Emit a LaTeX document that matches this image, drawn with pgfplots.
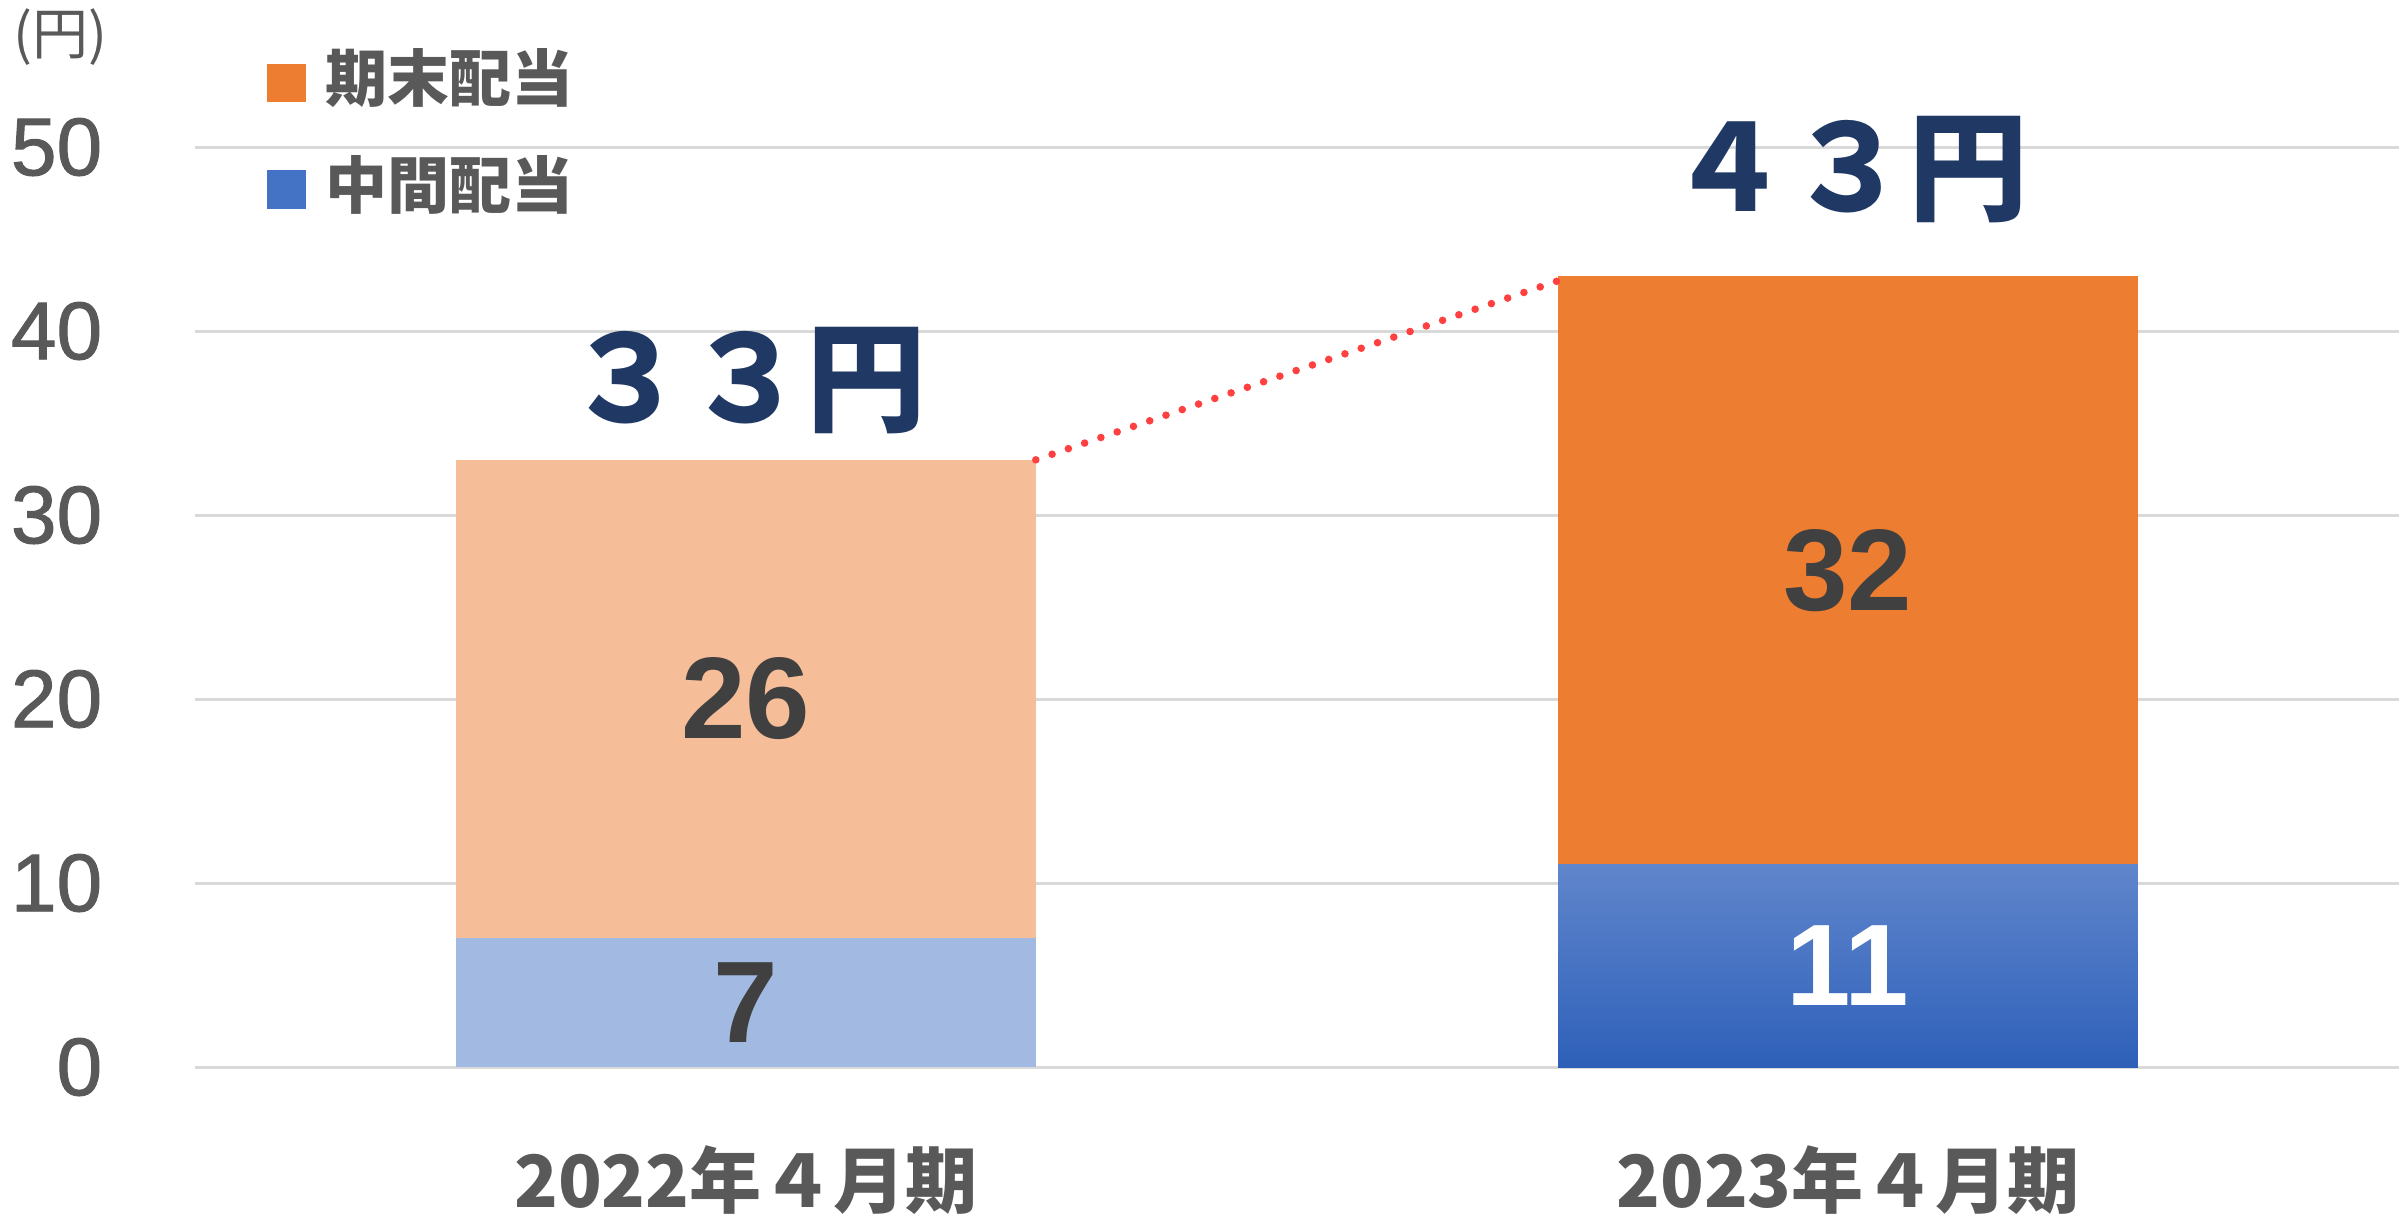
\documentclass[border=0pt]{standalone}
\usepackage{pgfplots}
\pgfplotsset{compat=1.18}
\usepackage{fontspec}
\setmainfont{Liberation Sans}
\newfontfamily\jp{Noto Sans CJK JP}
\newfontface\tickfont{Liberation Sans}[FakeBold=1.2]
\definecolor{orangeC}{HTML}{ED7D31}
\definecolor{blueC}{HTML}{4472C4}
\definecolor{orangeL}{HTML}{F5BE98}
\definecolor{blueL}{HTML}{A2B9E1}
\definecolor{blueTop}{HTML}{6086CC}
\definecolor{blueBot}{HTML}{2E60B9}
\definecolor{gridC}{HTML}{D9D9D9}
\definecolor{tickC}{HTML}{595959}
\definecolor{valC}{HTML}{404040}
\definecolor{navy}{HTML}{203864}
\definecolor{dotred}{HTML}{FF4040}
\begin{document}
\begin{tikzpicture}
\useasboundingbox (-48.75pt,-37pt) rectangle (553pt,266.75pt);
\begin{axis}[
  at={(0pt,0pt)}, anchor=south west,
  scale only axis, width=551pt, height=230pt,
  xmin=-0.5, xmax=1.5, ymin=0, ymax=50,
  enlargelimits=false, clip=false,
  axis line style={draw=none},
  major tick length=0pt,
  ytick={0,10,20,30,40,50},
  xtick={0,1},
  xticklabels={2022年４月期,2023年４月期},
  ymajorgrids,
  grid style={gridC, line width=0.75pt},
  /pgf/number format/assume math mode=true,
  yticklabel style={font=\tickfont\fontsize{20.5}{24}\selectfont, text=tickC, inner sep=0pt, anchor=east, xshift=-23pt},
  xticklabel style={font=\jp\bfseries\fontsize{18}{22}\selectfont, text=tickC, inner sep=0pt, anchor=north, yshift=-19.5pt},
  legend style={draw=none, fill=none, at={(0.0322,1.10)}, anchor=north west,
    font=\jp\bfseries\fontsize{15.5}{18}\selectfont, text=tickC,
    inner sep=0pt, row sep=13.2pt,
    nodes={inner sep=0pt, text height=11.5pt, text depth=2pt}},
  legend cell align=left,
]
\addplot[ybar, bar width=0.526, bar shift=0pt, fill=orangeL, draw=none, forget plot] coordinates {(0,33)};
\addplot[ybar, bar width=0.526, bar shift=0pt, fill=orangeC, draw=none, forget plot] coordinates {(1,43)};
\addplot[ybar, bar width=0.526, bar shift=0pt, fill=blueL, draw=none, forget plot] coordinates {(0,7)};
\addplot[ybar, bar width=0.526, bar shift=0pt, top color=blueTop, bottom color=blueBot, draw=none, forget plot] coordinates {(1,11)};
\addplot[dotred, line width=1.9pt, line cap=round, dash pattern=on 0pt off 4.3pt, forget plot] coordinates {(0.263,33) (0.75,43)};
\addlegendimage{legend image code/.code={\fill[orangeC] (0pt,-4.6pt) rectangle (9.4pt,4.6pt);}}
\addlegendentry{\hspace{5pt}期末配当}
\addlegendimage{legend image code/.code={\fill[blueC] (0pt,-4.6pt) rectangle (9.4pt,4.6pt);}}
\addlegendentry{\hspace{5pt}中間配当}
\node[font=\bfseries\fontsize{29}{32}\selectfont, text=valC] at (axis cs:0,20) {26};
\node[font=\bfseries\fontsize{29}{32}\selectfont, text=valC] at (axis cs:0,3.5) {7};
\node[font=\bfseries\fontsize{29}{32}\selectfont, text=valC] at (axis cs:1,27) {32};
\node[font=\bfseries\fontsize{29}{32}\selectfont, text=white] at (axis cs:1,5.5) {11};
\node[font=\jp\bfseries\fontsize{30}{34}\selectfont, text=navy] at (axis cs:0,37.3) {３３円};
\node[font=\jp\bfseries\fontsize{30}{34}\selectfont, text=navy] at (axis cs:1,48.75) {４３円};
\node[font=\jp\fontsize{14}{16}\selectfont, text=tickC] at (axis cs:-0.6225,56) {(円)};
\end{axis}
\end{tikzpicture}
\end{document}
